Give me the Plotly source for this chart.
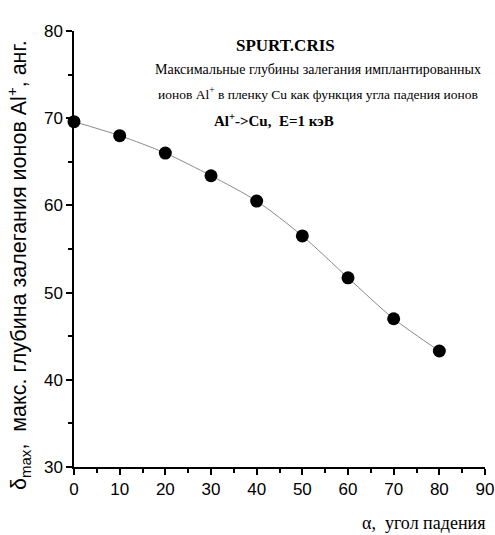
import plotly.graph_objects as go

angles = [0, 10, 20, 30, 40, 50, 60, 70, 80]
depths = [69.6, 68.0, 66.0, 63.4, 60.5, 56.5, 51.7, 47.0, 43.3]

x_ticks = [0, 10, 20, 30, 40, 50, 60, 70, 80, 90]
y_ticks = [30, 40, 50, 60, 70, 80]

W, H = 495, 535
L, R, T, B = 74, 10, 31, 68
pw, ph = W - L - R, H - T - B

def px(x):
    return (x - L) / pw

def py(y):
    return (H - B - y) / ph

fig = go.Figure()
fig.add_trace(go.Scatter(
    x=angles, y=depths, mode="lines+markers",
    line=dict(color="#8a8a8a", width=1, shape="spline", smoothing=0.8),
    marker=dict(color="black", size=13),
    cliponaxis=False, showlegend=False,
))

axis_common = dict(
    showgrid=False, zeroline=False, showline=True, linecolor="black", linewidth=1.5,
    ticks="outside", ticklen=6, tickwidth=1.5, tickcolor="black",
    tickfont=dict(family="Liberation Sans, Arial", size=17, color="black"),
    minor=dict(ticks="outside", ticklen=4, tickwidth=1.5, tickcolor="black", dtick=5),
    automargin=False,
)

fig.update_layout(
    width=W, height=H,
    margin=dict(l=L, r=R, t=T, b=B, autoexpand=False),
    paper_bgcolor="white", plot_bgcolor="white",
    xaxis=dict(range=[0, 90], tickvals=x_ticks, **axis_common),
    yaxis=dict(range=[30, 80], tickvals=y_ticks, **axis_common),
)

ann = [
    dict(text="<b>SPURT.CRIS</b>", x=px(285), y=py(45), size=17),
    dict(text="Максимальные глубины залегания имплантированных", x=px(318), y=py(69), size=14),
    dict(text="ионов Al<sup>+</sup> в пленку Cu как функция угла падения ионов", x=px(318), y=py(93), size=13.5),
    dict(text="<b>Al<sup>+</sup>->Cu,  E=1 кэВ</b>", x=px(274), y=py(120), size=15),
    dict(text="α,  угол падения", x=px(423), y=py(523), size=18),
]
for a in ann:
    fig.add_annotation(
        text=a["text"], x=a["x"], y=a["y"], xref="paper", yref="paper",
        xanchor="center", yanchor="middle", showarrow=False,
        font=dict(family="Liberation Serif, Times New Roman", size=a["size"], color="black"),
    )

fig.add_annotation(
    text="δ<sub>max</sub>,  макс. глубина залегания ионов Al<sup>+</sup>, анг.",
    x=px(18), y=py(265), xref="paper", yref="paper",
    xanchor="center", yanchor="middle", showarrow=False, textangle=-90,
    font=dict(family="Liberation Sans, Arial", size=21.5, color="black"),
)

fig.write_html("out.html", config={"displayModeBar": False},
               post_script="document.body.style.margin='0';")
